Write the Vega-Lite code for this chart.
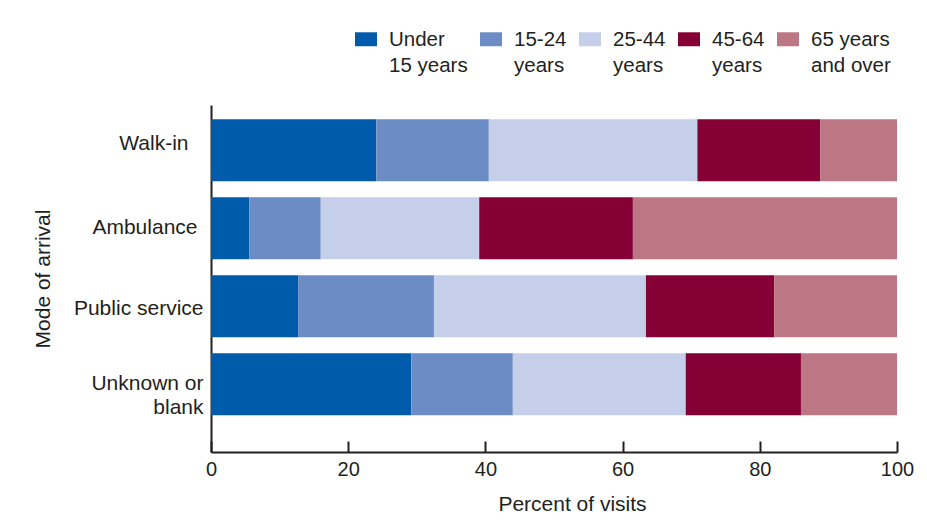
{
  "$schema": "https://vega.github.io/schema/vega-lite/v6.json",
  "width": 686,
  "height": 347,
  "autosize": {"type": "none"},
  "padding": {"left": 211, "top": 105, "right": 30, "bottom": 72},
  "background": "white",
  "config": {
    "view": {"stroke": null},
    "font": "Liberation Sans",
    "axis": {"grid": false, "domainColor": "#231f20", "domainWidth": 2, "tickColor": "#231f20", "labelColor": "#231f20", "titleColor": "#231f20", "labelFont": "Liberation Sans", "titleFont": "Liberation Sans", "titleFontWeight": "normal"}
  },
  "data": {
    "values": [
      {"mode": "Walk-in", "age": "Under 15 years", "rank": 1, "pct": 24.1},
      {"mode": "Walk-in", "age": "15-24 years", "rank": 2, "pct": 16.4},
      {"mode": "Walk-in", "age": "25-44 years", "rank": 3, "pct": 30.4},
      {"mode": "Walk-in", "age": "45-64 years", "rank": 4, "pct": 17.9},
      {"mode": "Walk-in", "age": "65 years and over", "rank": 5, "pct": 11.2},
      {"mode": "Ambulance", "age": "Under 15 years", "rank": 1, "pct": 5.6},
      {"mode": "Ambulance", "age": "15-24 years", "rank": 2, "pct": 10.4},
      {"mode": "Ambulance", "age": "25-44 years", "rank": 3, "pct": 23.1},
      {"mode": "Ambulance", "age": "45-64 years", "rank": 4, "pct": 22.4},
      {"mode": "Ambulance", "age": "65 years and over", "rank": 5, "pct": 38.5},
      {"mode": "Public service", "age": "Under 15 years", "rank": 1, "pct": 12.7},
      {"mode": "Public service", "age": "15-24 years", "rank": 2, "pct": 19.8},
      {"mode": "Public service", "age": "25-44 years", "rank": 3, "pct": 30.9},
      {"mode": "Public service", "age": "45-64 years", "rank": 4, "pct": 18.7},
      {"mode": "Public service", "age": "65 years and over", "rank": 5, "pct": 17.9},
      {"mode": "Unknown or blank", "age": "Under 15 years", "rank": 1, "pct": 29.2},
      {"mode": "Unknown or blank", "age": "15-24 years", "rank": 2, "pct": 14.8},
      {"mode": "Unknown or blank", "age": "25-44 years", "rank": 3, "pct": 25.2},
      {"mode": "Unknown or blank", "age": "45-64 years", "rank": 4, "pct": 16.8},
      {"mode": "Unknown or blank", "age": "65 years and over", "rank": 5, "pct": 14.0}
    ]
  },
  "mark": {"type": "bar"},
  "encoding": {
    "y": {
      "field": "mode",
      "type": "nominal",
      "sort": ["Walk-in", "Ambulance", "Public service", "Unknown or blank"],
      "scale": {"paddingInner": 0.205, "paddingOuter": 0.327, "align": 0.28},
      "axis": {
        "title": "Mode of arrival",
        "labelExpr": "datum.value == 'Unknown or blank' ? ['Unknown or', 'blank'] : datum.value",
        "labelFontSize": 21,
        "labelLineHeight": 24,
        "labelPadding": {"condition": [{"test": "datum.value == 'Walk-in'", "value": 23}, {"test": "datum.value == 'Ambulance'", "value": 14}], "value": 8},
        "labelOffset": {"condition": [{"test": "datum.value == 'Walk-in'", "value": -6}, {"test": "datum.value == 'Public service'", "value": 3}], "value": 0},
        "labelLimit": 0,
        "ticks": false,
        "titleFontSize": 21,
        "titleAngle": -90,
        "titleX": -162,
        "titleY": 173.5,
        "titleAlign": "center",
        "titleBaseline": "alphabetic"
      }
    },
    "x": {
      "field": "pct",
      "type": "quantitative",
      "stack": "zero",
      "scale": {"domain": [0, 100], "nice": false},
      "axis": {
        "title": "Percent of visits",
        "values": [0, 20, 40, 60, 80, 100],
        "tickSize": -11,
        "tickWidth": 2,
        "labelFontSize": 20,
        "labelPadding": 18,
        "labelFlush": false,
        "titleFontSize": 21,
        "titleX": 361,
        "titleY": 41,
        "titleAlign": "center",
        "titleBaseline": "top"
      }
    },
    "color": {
      "field": "age",
      "type": "nominal",
      "scale": {
        "domain": ["Under 15 years", "15-24 years", "25-44 years", "45-64 years", "65 years and over"],
        "range": ["#005baa", "#6b8cc4", "#c5cfea", "#840035", "#bd7683"]
      },
      "legend": {
        "title": null,
        "orient": "none",
        "legendX": 144,
        "legendY": -70,
        "direction": "horizontal",
        "symbolType": "M-1,-1.27H1V0H-1Z",
        "symbolSize": 484,
        "symbolStrokeWidth": 0,
        "symbolOpacity": 1,
        "labelFont": "Liberation Sans",
        "labelFontSize": 20.5,
        "labelColor": "#231f20",
        "labelOffset": 12,
        "labelLimit": 0,
        "labelBaseline": "alphabetic",
        "columnPadding": 12,
        "padding": 0,
        "labelExpr": "datum.label == 'Under 15 years' ? ['Under', '15 years'] : datum.label == '65 years and over' ? ['65 years', 'and over'] : [split(datum.label, ' ')[0], 'years']",
        "encode": {"labels": {"update": {"lineHeight": {"value": 26}}}}
      }
    },
    "order": {"field": "rank", "type": "quantitative"}
  }
}
